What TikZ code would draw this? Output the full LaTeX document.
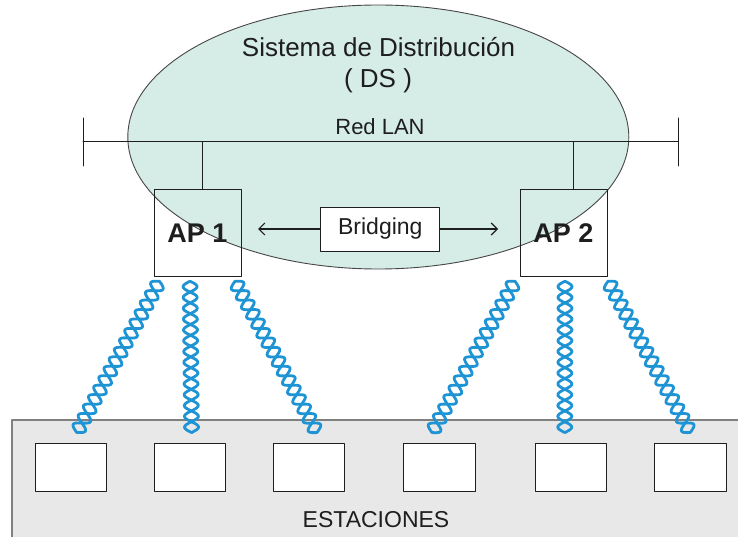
\documentclass[tikz,border=0pt]{standalone}
\usepackage{fontspec}
\setmainfont{Liberation Sans}
\usepackage{tikz}
\usetikzlibrary{positioning}
\usetikzlibrary{calc}
\usetikzlibrary{arrows.meta, shapes.geometric}

\definecolor{dsfill}{RGB}{214,236,231}
\definecolor{dsedge}{RGB}{70,70,70}
\definecolor{wire}{RGB}{30,148,212}
\definecolor{barfill}{RGB}{232,232,232}
\definecolor{baredge}{RGB}{128,128,128}
\definecolor{ink}{RGB}{30,30,30}

\tikzset{
  apbox/.style={draw=ink, line width=0.9pt, minimum width=87pt, minimum height=87pt,
    inner sep=0pt, font=\bfseries\fontsize{27}{30}\selectfont, text=ink},
  stabox/.style={draw=ink, line width=1pt, fill=white, minimum width=71.5pt,
    minimum height=48pt, inner sep=0pt},
  pair/.style={draw=wire, line width=2.8pt},
  label/.style={anchor=base, text=ink},
}

\begin{document}
\begin{tikzpicture}[x=1pt, y=-1pt, line cap=round, line join=round]
    \clip (0,0) rectangle (738,537);

    % distribution system
    \node[ellipse, draw=dsedge, fill=dsfill, line width=0.9pt, minimum width=501pt,
      minimum height=264pt, inner sep=0pt] (ds) at (378.3,137) {};
    \node[label, font=\fontsize{26}{30}\selectfont] (dsname) at (378.5,56.7) {Sistema de Distribución};
    \node[label, font=\fontsize{26}{30}\selectfont] (dsabbr) at (378,88) {( DS )};

    % LAN bus
    \coordinate (lanL) at (83,142);
    \coordinate (lanR) at (678,142);
    \draw[ink, line width=1pt] (lanL) -- (lanR);
    \draw[ink, line width=1pt] ([yshift=24pt]lanL) -- ([yshift=-24pt]lanL);
    \draw[ink, line width=1pt] ([yshift=24pt]lanR) -- ([yshift=-24pt]lanR);
    \node[label, font=\fontsize{22}{26}\selectfont] (lan) at (380,135) {Red LAN};

    % access points
    \node[apbox] (ap1) at (197.5,233.3) {AP 1};
    \node[apbox] (ap2) at (563.5,233.3) {AP 2};
    \coordinate (tap1) at (202,142);
    \coordinate (tap2) at (573,142);
    \draw[ink, line width=1pt] (tap1) -- (tap1 |- ap1.north);
    \draw[ink, line width=1pt] (tap2) -- (tap2 |- ap2.north);

    % bridging between the two APs
    \node[draw=ink, fill=white, line width=0.9pt, minimum width=119pt, minimum height=44pt,
      inner sep=0pt, font=\fontsize{23}{26}\selectfont, text=ink] (br) at (380.3,229) {Bridging};
    \coordinate (tipL) at (258,229);
    \coordinate (tipR) at (498,229);
    \draw[-{Straight Barb[length=6pt,width=12pt]}, ink, line width=1.2pt] (br.west) -- (tipL);
    \draw[-{Straight Barb[length=6pt,width=12pt]}, ink, line width=1.2pt] (br.east) -- (tipR);

    % stations
    \fill[barfill, draw=baredge, line width=2pt] (11.7,420) rectangle (760,560);
    \foreach \n/\x in {1/70.8, 2/190, 3/309, 4/439.5, 5/570.8, 6/690.3}
        \node[stabox] (st\n) at (\x,467) {};
    \node[label, font=\fontsize{23}{26}\selectfont] (sta) at (376,527.7) {ESTACIONES};

    % wireless links (twisted pairs): start, half-waves, angle, length
    \foreach \ap/\dx/\k/\a/\l in {ap1/-38/16/241.3/172.4, ap1/-7.5/14/270.6/151.3,
        ap1/37.5/16/298.45/172.1, ap2/-48.5/16/241.25/172.6,
        ap2/1.5/14/269.92/151.3, ap2/44.5/16/298.54/172.2} {
        \coordinate (cs) at ([xshift=\dx pt, yshift=-4pt]\ap.south);
        \draw[pair, shift={(cs)}, rotate=\a] plot[smooth, samples=161, domain=0:\l]
            (\x, {7*sin(\x/\l*\k*180)});
        \draw[pair, shift={(cs)}, rotate=\a] plot[smooth, samples=161, domain=0:\l]
            (\x, {-7*sin(\x/\l*\k*180)});
    }
\end{tikzpicture}
\end{document}
